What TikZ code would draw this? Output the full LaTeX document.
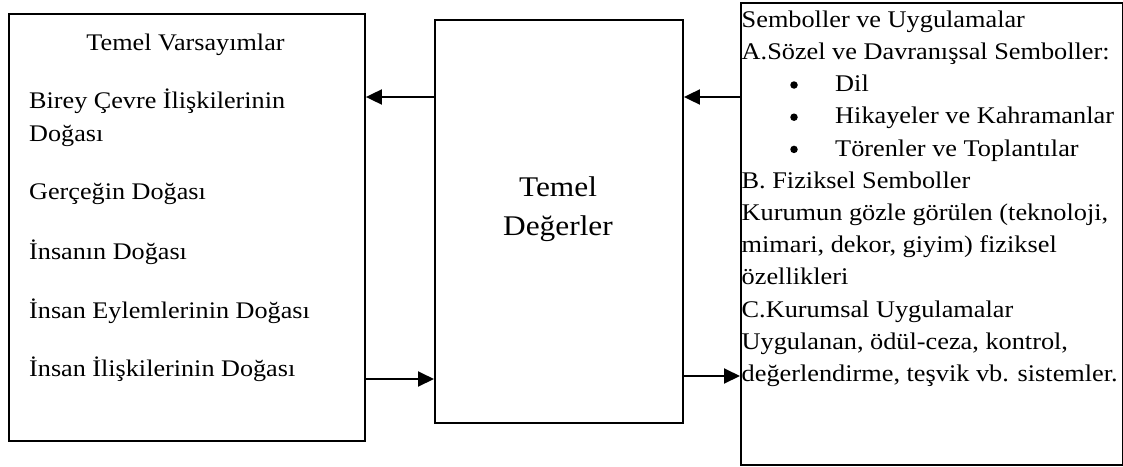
\documentclass[tikz,border=0pt]{standalone}
\usepackage{fontspec}
\setmainfont[FakeStretch=1.1]{Liberation Serif}
\usetikzlibrary{arrows.meta}
\begin{document}
\begin{tikzpicture}[x=1pt,y=-1pt,
 box/.style={draw, line width=1.9pt, inner sep=0pt, anchor=north west},
 arr/.style={line width=1.9pt, -{Triangle[length=16pt,width=15pt]}},
 lt/.style={anchor=base west, inner sep=0pt, font=\fontsize{23.8}{28}\selectfont},
 rt/.style={anchor=base west, inner sep=0pt, font=\fontsize{23.9}{28}\selectfont},
 bul/.style={circle, fill, inner sep=0pt, minimum size=7.5pt},
 mt/.style={anchor=base, inner sep=0pt, font=\fontsize{28.5}{30}\selectfont}
]
\useasboundingbox (0,0) rectangle (1123,466);
\node[box, minimum width=356pt, minimum height=427pt] (L) at (8,13) {};
\node[box, minimum width=248pt, minimum height=403pt] (M) at (434,19) {};
\node[box, minimum width=382pt, minimum height=462pt] (R) at (740,2) {};

% left box
\node[lt, anchor=base] (lt0) at (185.5,50) {Temel Varsayımlar};
\node[lt] (lt1) at (29,108) {Birey Çevre İlişkilerinin};
\node[lt] (lt2) at (29,141.7) {Doğası};
\node[lt] (lt3) at (29,199) {Gerçeğin Doğası};
\node[lt] (lt4) at (29,259) {İnsanın Doğası};
\node[lt] (lt5) at (29,318) {İnsan Eylemlerinin Doğası};
\node[lt] (lt6) at (29,376.7) {İnsan İlişkilerinin Doğası};

% middle box
\node[mt] (m1) at (558,196.7) {Temel};
\node[mt] (m2) at (558,235) {Değerler};

% right box
\node[rt] (r0) at (741.5,27.3) {Semboller ve Uygulamalar};
\node[rt] (r1) at (741.5,59.5) {A.Sözel ve Davranışsal Semboller:};
\node[bul] (b2) at (794,85) {};
\node[rt] (r2) at (835,91.7) {Dil};
\node[bul] (b3) at (794,117.2) {};
\node[rt] (r3) at (835,123.9) {Hikayeler ve Kahramanlar};
\node[bul] (b4) at (794,149.4) {};
\node[rt] (r4) at (835,156.1) {Törenler ve Toplantılar};
\node[rt] (r5) at (741.5,188.3) {B. Fiziksel Semboller};
\node[rt] (r6) at (741.5,220.5) {Kurumun gözle görülen (teknoloji,};
\node[rt] (r7) at (741.5,252.7) {mimari, dekor, giyim) fiziksel};
\node[rt] (r8) at (741.5,284.9) {özellikleri};
\node[rt] (r9) at (741.5,317.1) {C.Kurumsal Uygulamalar};
\node[rt] (r10) at (741.5,349.3) {Uygulanan, ödül-ceza, kontrol,};
\node[rt] (r11) at (741.5,381.5) {değerlendirme, teşvik vb. sistemler.};

% arrows
\draw[arr] (M.west |- 0,97) -- (L.east |- 0,97);
\draw[arr] (R.west |- 0,97) -- (M.east |- 0,97);
\draw[arr] (L.east |- 0,379) -- (M.west |- 0,379);
\draw[arr] (M.east |- 0,376) -- (R.west |- 0,376);
\end{tikzpicture}
\end{document}
